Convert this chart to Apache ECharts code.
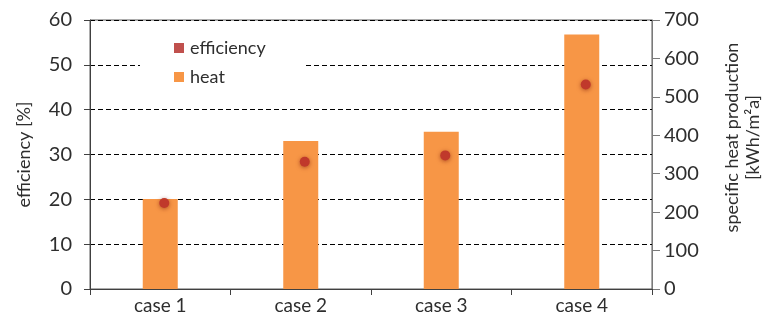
<!DOCTYPE html>
<html>
<head>
<meta charset="utf-8">
<script src="https://cdn.jsdelivr.net/npm/echarts@6/dist/echarts.min.js"></script>
<style>
  html, body { margin: 0; padding: 0; background: #fff; }
  #chart { width: 765px; height: 324px; }
</style>
</head>
<body>
<div id="chart"></div>
<script>
// Cases compared in the study
const categories = ['case 1', 'case 2', 'case 3', 'case 4'];
// Specific heat production per case, kWh/m²a (right axis)
const heatValues = [234, 385, 409, 662];
// Collector efficiency per case, % (left axis)
const efficiencyValues = [19.2, 28.4, 29.8, 45.6];
// Axis tick settings
const effTicks = { min: 0, max: 60, interval: 10 };
const heatTicks = { min: 0, max: 700, interval: 100 };

const FONT = 'Lato, "Open Sans", sans-serif';
const TEXT = '#2e2e2e';

const chart = echarts.init(document.getElementById('chart'), null, { renderer: 'canvas' });

chart.setOption({
  animation: false,
  backgroundColor: '#ffffff',
  textStyle: { fontFamily: FONT, color: TEXT },
  grid: {
    left: 90, right: 113, top: 20, bottom: 35,
    outerBoundsMode: 'none',
    containLabel: false,
    show: true, borderColor: '#5a5a5a', borderWidth: 1, backgroundColor: 'transparent'
  },
  legend: {
    left: 140, top: 31,
    orient: 'vertical',
    backgroundColor: '#ffffff',
    padding: [8, 38, 8, 34],
    itemGap: 11,
    itemWidth: 10, itemHeight: 10,
    icon: 'rect',
    textStyle: { fontFamily: FONT, fontSize: 18, color: TEXT, padding: [0, 0, 0, 1] },
    data: [
      { name: 'efficiency', itemStyle: { color: '#c0504d', opacity: 1 } },
      { name: 'heat', itemStyle: { color: '#f79646', opacity: 1 } }
    ]
  },
  xAxis: {
    type: 'category',
    data: categories,
    boundaryGap: true,
    axisLine: { lineStyle: { color: '#404040', width: 1 } },
    axisTick: { show: true, length: 6, alignWithLabel: false, lineStyle: { color: '#404040' } },
    axisLabel: { fontFamily: FONT, fontSize: 19, color: TEXT, margin: 7 },
    splitLine: { show: false }
  },
  yAxis: [
    {
      type: 'value',
      position: 'left',
      min: effTicks.min, max: effTicks.max, interval: effTicks.interval,
      name: 'efficiency [%]',
      nameLocation: 'middle',
      nameRotate: 90,
      nameGap: 57,
      nameTextStyle: { fontFamily: FONT, fontSize: 18, color: TEXT },
      axisLine: { show: true, lineStyle: { color: '#404040' } },
      axisTick: { show: true, length: 6, lineStyle: { color: '#404040' } },
      axisLabel: { fontFamily: FONT, fontSize: 20, color: TEXT, margin: 18 },
      splitLine: { show: true, lineStyle: { color: '#000000', width: 1, type: [5, 3] } }
    },
    {
      type: 'value',
      position: 'right',
      min: heatTicks.min, max: heatTicks.max, interval: heatTicks.interval,
      name: 'specific heat production\n[kWh/m²a]',
      nameLocation: 'middle',
      nameRotate: 90,
      nameGap: 70,
      nameTextStyle: {
        fontFamily: FONT, fontSize: 18, color: TEXT, lineHeight: 21, align: 'center',
        padding: [0, 0, 0, 34]
      },
      axisLine: { show: true, lineStyle: { color: '#7a7a7a' } },
      axisTick: { show: true, length: 8, lineStyle: { color: '#7a7a7a' } },
      axisLabel: { fontFamily: FONT, fontSize: 20, color: TEXT, margin: 12 },
      splitLine: { show: false }
    }
  ],
  series: [
    {
      name: 'heat',
      type: 'bar',
      yAxisIndex: 1,
      data: heatValues,
      barWidth: 35,
      itemStyle: { color: '#f79646' },
      z: 2
    },
    {
      name: 'efficiency',
      type: 'scatter',
      yAxisIndex: 0,
      data: efficiencyValues,
      symbol: 'circle',
      symbolSize: 10,
      symbolOffset: [4, 0],
      itemStyle: {
        color: '#c0392b',
        opacity: 1,
        shadowBlur: 4,
        shadowColor: 'rgba(120, 20, 10, 0.55)',
        shadowOffsetY: 1
      },
      z: 3
    }
  ]
});
</script>
</body>
</html>
